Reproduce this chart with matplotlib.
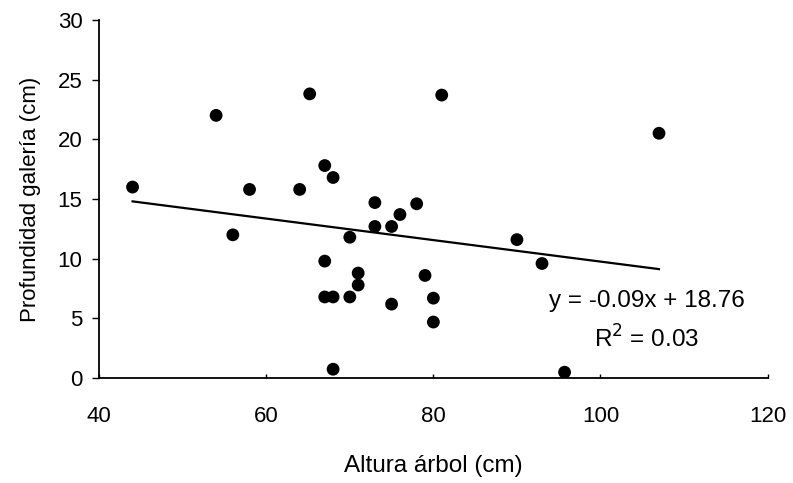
import numpy as np
import matplotlib.pyplot as plt

plt.rcParams['font.family'] = ['Liberation Sans', 'DejaVu Sans']

altura = [44, 54, 56, 58, 64, 65.2, 67, 68, 67, 67, 68, 68, 70, 70, 71, 71,
          73, 73, 75, 75, 76, 78, 79, 80, 80, 81, 90, 93, 95.7, 107]
profundidad = [16, 22, 12, 15.8, 15.8, 23.8, 17.8, 16.8, 9.8, 6.8, 6.8, 0.75,
               11.8, 6.8, 8.8, 7.8, 14.7, 12.7, 12.7, 6.2, 13.7, 14.6, 8.6,
               6.7, 4.7, 23.7, 11.6, 9.6, 0.5, 20.5]

pendiente = -0.09
intercepto = 18.76
r2 = 0.03

fig = plt.figure(figsize=(7.93, 4.83), dpi=100)
ax = fig.add_axes([0.125, 0.217, 0.843, 0.742])

ax.scatter(altura, profundidad, s=85, c='black', edgecolors='none', zorder=3)

xl = np.array([min(altura), max(altura)])
ax.plot(xl, pendiente*xl + intercepto, color='black', lw=1.6)

ax.text(105.5, 6.5, "y = -0.09x + 18.76", fontsize=17.5, ha='center', va='center')
ax.text(105.5, 3.3, "R$^2$ = 0.03", fontsize=17.5, ha='center', va='center')

ax.set_xlim(40, 120)
ax.set_ylim(0, 30)
ax.set_xticks([40, 60, 80, 100, 120])
ax.set_yticks([0, 5, 10, 15, 20, 25, 30])
ax.spines['top'].set_visible(False)
ax.spines['right'].set_visible(False)
ax.spines['left'].set_linewidth(1.3)
ax.spines['bottom'].set_linewidth(1.3)
ax.tick_params(axis='y', direction='out', length=5, width=1, labelsize=16, pad=7)
ax.tick_params(axis='x', direction='in', length=3, width=1, labelsize=16, pad=20)

ax.set_xlabel("Altura árbol (cm)", fontsize=17.5, labelpad=20)
ax.set_ylabel("Profundidad galería (cm)", fontsize=16, labelpad=12)

plt.savefig("out.png", dpi=100)
plt.close()
